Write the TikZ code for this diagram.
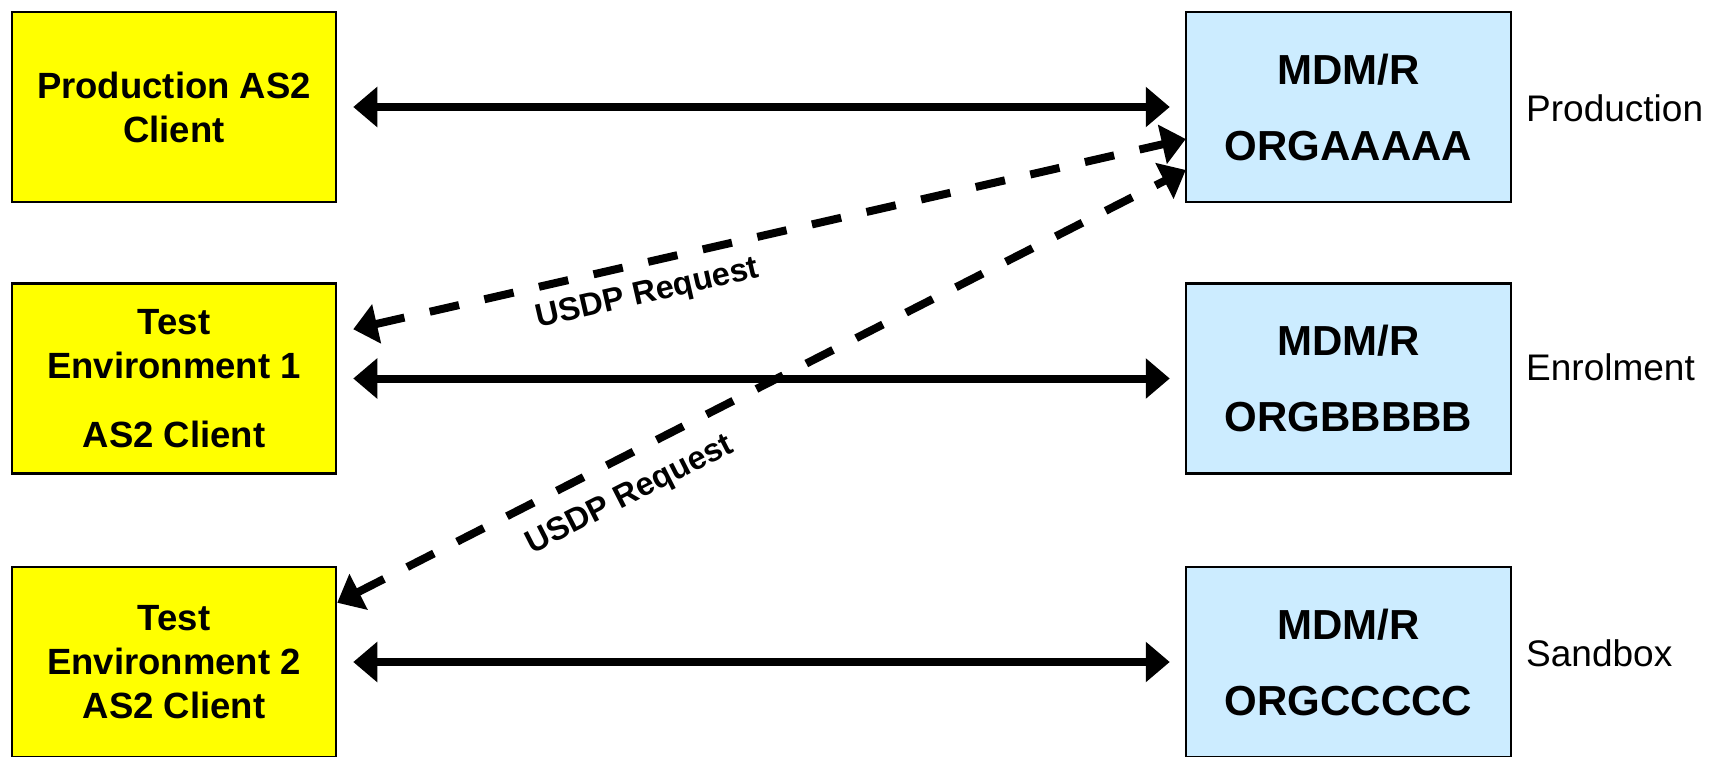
\documentclass[tikz,border=0pt]{standalone}
\usepackage{fontspec}
\setmainfont{Liberation Sans}
\usetikzlibrary{arrows.meta}
\definecolor{boxyellow}{HTML}{FFFF00}
\definecolor{boxblue}{HTML}{CCECFF}
\begin{document}
\begin{tikzpicture}[x=1pt,y=-1pt,
  ybox/.style={draw=black, line width=2.5pt, fill=boxyellow, minimum width=324pt, minimum height=190pt, inner sep=0pt, align=center, font=\bfseries\fontsize{36.5}{44}\selectfont},
  bbox/.style={draw=black, line width=2.5pt, fill=boxblue, minimum width=325pt, minimum height=190pt, inner sep=0pt, align=center, font=\bfseries\fontsize{42}{76}\selectfont},
  side/.style={anchor=west, inner sep=0pt, font=\fontsize{37}{44}\selectfont},
  harrow/.style={line width=8pt, {Triangle[length=24pt,width=39pt]}-{Triangle[length=24pt,width=39pt]}},
  darrow/.style={harrow, dash pattern=on 30pt off 26pt},
  lbl/.style={sloped, font=\bfseries\fontsize{32.5}{34}\selectfont, inner sep=0pt}
]
\useasboundingbox (0,0) rectangle (1718,757);
\clip (0,0) rectangle (1718,757);

\node[ybox] (y1) at (174,107) {Production AS2\\Client};
\node[ybox] (y2) at (174,378.5) {Test\\Environment 1\\[25pt]AS2 Client};
\node[ybox] (y3) at (174,662) {Test\\Environment 2\\AS2 Client};

\node[bbox] (b1) at (1348.5,107) {MDM/R\\ORGAAAAA};
\node[bbox] (b2) at (1348.5,378.5) {MDM/R\\ORGBBBBB};
\node[bbox] (b3) at (1348.5,662) {MDM/R\\ORGCCCCC};

\node[side] (s1) at (1526,108) {Production};
\node[side] (s2) at (1526,367) {Enrolment};
\node[side] (s3) at (1526,653) {Sandbox};

\draw[harrow, shorten <=16pt, shorten >=15pt] (y1.east) -- (b1.west);
\draw[harrow, shorten <=16pt, shorten >=15pt] (y2.east) -- (b2.west);
\draw[harrow, shorten <=16pt, shorten >=15pt] (y3.east) -- (b3.west);

\draw[darrow] ([xshift=16pt,yshift=-47pt]y2.north east) -- ([xshift=1pt,yshift=-32pt]b1.west)
  node[lbl, pos=0.345, below=13pt] (l1) {USDP Request};
\draw[darrow] ([xshift=0pt,yshift=-37pt]y3.north east) -- ([xshift=1pt,yshift=-63pt]b1.west)
  node[lbl, pos=0.325, below=19pt] (l2) {USDP Request};
\end{tikzpicture}
\end{document}
